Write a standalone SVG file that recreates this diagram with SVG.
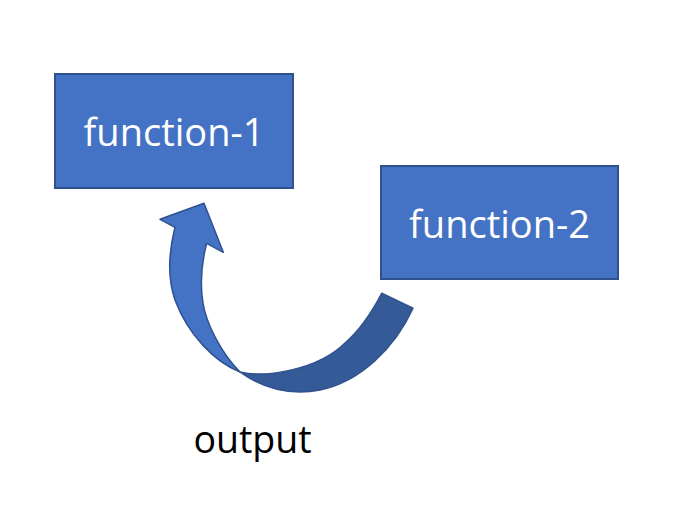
<svg xmlns="http://www.w3.org/2000/svg" width="686" height="510" viewBox="0 0 686 510">
<style>
.box{fill:#4472C4;stroke:#2F528F;stroke-width:2}
.lbl{font-family:"Open Sans","Liberation Sans",sans-serif;font-size:38px;fill:#FFFFFF;text-anchor:middle}
.out{font-family:"Open Sans","Liberation Sans",sans-serif;font-size:37.5px;fill:#000000;text-anchor:middle}
.front{fill:#4472C4;stroke:#2F528F;stroke-width:1.5;stroke-linejoin:round}
.back{fill:#345A98;stroke:#2F528F;stroke-width:1.5;stroke-linejoin:round}
</style>
<rect width="686" height="510" fill="#FFFFFF"/>
<g id="function-1">
<rect class="box" x="55" y="74" width="238" height="114"/>
<text class="lbl" x="174" y="146">function-1</text>
</g>
<g id="function-2">
<rect class="box" x="381" y="166" width="237" height="113"/>
<text class="lbl" x="499.5" y="238">function-2</text>
</g>
<g id="connectors">
<path class="back" d="M381.7,293.3 L413,308.3 C395,348 360,382 320,390 C290,396 262,388 240,372 C265,378 318,370 345,343 C360,330 373,310 381.7,293.3 Z"/>
<path class="front" d="M240,372 C215,362 188,335 175,300 C168,280 168,255 175,227.3 L160,219.3 L204,203.3 L223.3,252.3 L206.7,243.3 C201,265 200,285 203,303 C206,322 220,352 240,372 Z"/>
</g>
<g id="output">
<text class="out" x="252.5" y="453">output</text>
</g>
</svg>
